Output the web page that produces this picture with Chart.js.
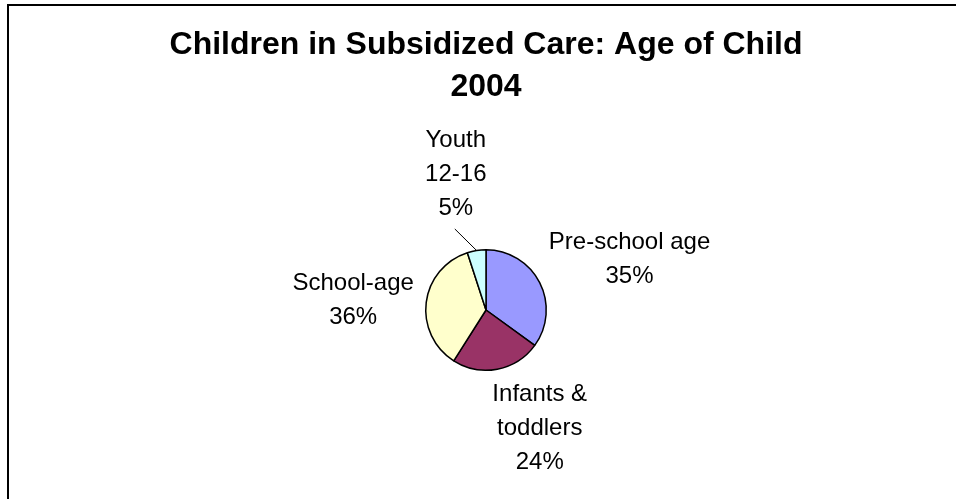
<!DOCTYPE html>
<html>
<head>
<meta charset="utf-8">
<script src="https://cdn.jsdelivr.net/npm/chart.js@4"></script>
<style>
    html, body { margin: 0; padding: 0; background: #fff; }
    #wrap { position: relative; width: 956px; height: 499px; overflow: hidden; }
    #frame {
        position: absolute; left: 7px; top: 4px; width: 1000px; height: 600px;
        border-top: 2px solid #000; border-left: 2px solid #000;
        pointer-events: none;
    }
</style>
</head>
<body>
<div id="wrap">
    <canvas id="grafico1" width="956" height="499"></canvas>
    <div id="frame"></div>
</div>
<script>
// data
const categories = ['Pre-school age', 'Infants & toddlers', 'School-age', 'Youth 12-16'];
const labelLines = [['Pre-school age'], ['Infants &', 'toddlers'], ['School-age'], ['Youth', '12-16']];
const percents = [35, 24, 36, 5];
const sliceColors = ['#9999FF', '#993366', '#FFFFCC', '#CCFFFF'];

const FONT = "'Liberation Sans', Arial, sans-serif";

// draws the Excel style slice labels outside the pie
const sliceLabels = {
    id: 'sliceLabels',
    afterDatasetsDraw(chart, args, opts) {
        const ctx = chart.ctx;
        const meta = chart.getDatasetMeta(0);
        ctx.save();
        ctx.font = opts.size + 'px ' + FONT;
        ctx.fillStyle = '#000';
        ctx.textAlign = 'center';
        ctx.textBaseline = 'alphabetic';
        meta.data.forEach(function (arc, i) {
            const p = arc.getProps(['x', 'y', 'startAngle', 'endAngle', 'outerRadius'], true);
            const mid = (p.startAngle + p.endAngle) / 2;
            const dx = Math.cos(mid), dy = Math.sin(mid);
            const lines = labelLines[i].concat([percents[i] + '%']);
            const w = Math.max.apply(null, lines.map(l => ctx.measureText(l).width));
            const h = lines.length * opts.lineHeight;
            const d = p.outerRadius + opts.gap;
            const n = opts.nudge[i] || [0, 0];
            const cx = p.x + dx * (d + w / 2) + n[0];
            const cy = p.y + dy * (d + h / 2) + n[1];
            const capH = opts.size * 0.716;
            const block = (lines.length - 1) * opts.lineHeight + capH;
            const base = cy - block / 2 + capH;
            lines.forEach(function (l, k) {
                ctx.fillText(l, cx, base + k * opts.lineHeight);
            });
            if (opts.leader[i]) {
                const lastBase = base + (lines.length - 1) * opts.lineHeight;
                ctx.beginPath();
                ctx.strokeStyle = '#000';
                ctx.lineWidth = 1;
                ctx.moveTo(p.x + dx * p.outerRadius, p.y + dy * p.outerRadius);
                ctx.lineTo(cx - 1, lastBase + 14);
                ctx.stroke();
            }
        });
        ctx.restore();
    }
};

document.addEventListener('DOMContentLoaded', function () {
    const ctx = document.getElementById('grafico1').getContext('2d');

    const grafico1 = new Chart(ctx, {
        type: 'pie',
        data: {
            labels: categories,
            datasets: [{
                data: percents,
                backgroundColor: sliceColors,
                borderColor: '#000',
                borderWidth: 1.5
            }]
        },
        options: {
            responsive: false,
            animation: false,
            layout: {
                padding: { left: 16, right: 0, top: 0, bottom: 128 }
            },
            plugins: {
                legend: { display: false },
                tooltip: { enabled: false },
                title: {
                    display: true,
                    text: ['Children in Subsidized Care: Age of Child', '2004'],
                    color: '#000',
                    font: { family: FONT, size: 32, weight: 'bold', lineHeight: 1.3125 },
                    padding: { top: 24, bottom: 141 }
                },
                sliceLabels: {
                    size: 24,
                    lineHeight: 34,
                    gap: 19,
                    nudge: [[1, -1], [30, -12], [6, 3], [-13, -9]],
                    leader: [false, false, false, true]
                }
            }
        },
        plugins: [sliceLabels]
    });
});
</script>
</body>
</html>
